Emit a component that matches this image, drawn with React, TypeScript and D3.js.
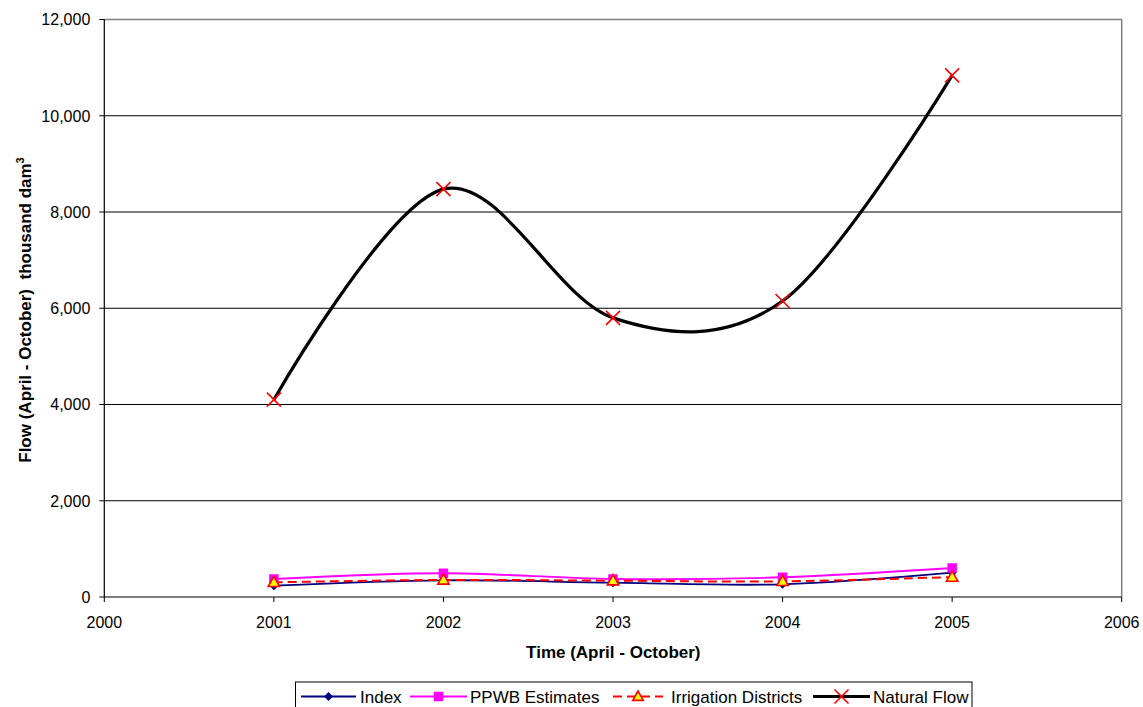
import React from "react";
import * as d3 from "d3";

const years = [2001, 2002, 2003, 2004, 2005];
const indexValues = [235, 347, 298, 264, 505];
const ppwbValues = [374, 493, 374, 410, 603];
const irrigationValues = [305, 354, 339, 325, 415];
const naturalFlowValues = [4100, 8475, 5800, 6150, 10840];
const yTicks = [0, 2000, 4000, 6000, 8000, 10000, 12000];
const xTicks = [2000, 2001, 2002, 2003, 2004, 2005, 2006];

const W = 1143;
const H = 707;
const left = 104.3;
const right = 1121.7;
const top = 19.5;
const bottom = 597;

export default function App() {
  const x = d3.scaleLinear().domain([2000, 2006]).range([left, right]);
  const y = d3.scaleLinear().domain([0, 12000]).range([bottom, top]);
  const line = d3
    .line<[number, number]>()
    .x((d) => x(d[0]))
    .y((d) => y(d[1]))
    .curve(d3.curveCardinal.tension(0));
  const pts = (vals: number[]) => years.map((yr, i) => [yr, vals[i]] as [number, number]);
  const fmt = d3.format(",");
  const font = "Arial, 'Liberation Sans', sans-serif";

  const diamond = (cx: number, cy: number, s: number) =>
    `M${cx},${cy - s}L${cx + s},${cy}L${cx},${cy + s}L${cx - s},${cy}Z`;
  const tri = (cx: number, cy: number, s: number) =>
    `M${cx},${cy - s}L${cx + s * 0.95},${cy + s * 0.7}L${cx - s * 0.95},${cy + s * 0.7}Z`;
  const cross = (cx: number, cy: number, s: number) =>
    `M${cx - s},${cy - s}L${cx + s},${cy + s}M${cx - s},${cy + s}L${cx + s},${cy - s}`;

  const legY = 696.5;
  const legFs = 17;

  return (
    <svg
      width={W}
      height={H}
      style={{ position: "absolute", left: 0, top: 0, background: "#fff" }}
      fontFamily={font}
    >
      <rect x={0} y={0} width={W} height={H} fill="#fff" />
      {/* gridlines */}
      {yTicks.slice(1).map((t) => (
        <line key={t} x1={left} x2={right} y1={y(t)} y2={y(t)} stroke="#000" strokeWidth={1} />
      ))}
      {/* plot border right/top */}
      <line x1={right} x2={right} y1={top} y2={bottom} stroke="#808080" strokeWidth={1.5} />
      <line x1={left} x2={right} y1={top} y2={top} stroke="#808080" strokeWidth={1.5} />
      {/* axes */}
      <line x1={left} x2={left} y1={top} y2={bottom} stroke="#000" strokeWidth={1.2} />
      <line x1={left} x2={right} y1={bottom} y2={bottom} stroke="#000" strokeWidth={1.2} />
      {yTicks.map((t) => (
        <g key={t}>
          <line x1={left - 5} x2={left} y1={y(t)} y2={y(t)} stroke="#000" />
          <text x={left - 14} y={y(t)} dy="0.36em" textAnchor="end" fontSize={16} fill="#000">
            {fmt(t)}
          </text>
        </g>
      ))}
      {xTicks.map((t) => (
        <g key={t}>
          <line x1={x(t)} x2={x(t)} y1={bottom} y2={bottom + 5} stroke="#000" />
          <text x={x(t)} y={bottom + 31} textAnchor="middle" fontSize={16} fill="#000">
            {t}
          </text>
        </g>
      ))}
      <text x={613.3} y={658} textAnchor="middle" fontSize={17} fontWeight="bold">
        Time (April - October)
      </text>
      <text
        transform={`translate(31,${310}) rotate(-90)`}
        textAnchor="middle"
        fontSize={17}
        fontWeight="bold"
        style={{ whiteSpace: "pre" }}
      >
        {"Flow (April - October)  thousand dam"}
        <tspan fontSize={11} dy={-7}>3</tspan>
      </text>

      {/* series */}
      <path d={line(pts(naturalFlowValues)) || ""} fill="none" stroke="#000" strokeWidth={3.2} />
      <path d={line(pts(ppwbValues)) || ""} fill="none" stroke="#FF00FF" strokeWidth={1.8} />
      <path d={line(pts(indexValues)) || ""} fill="none" stroke="#000080" strokeWidth={1.8} />
      <path
        d={line(pts(irrigationValues)) || ""}
        fill="none"
        stroke="#FF0000"
        strokeWidth={2}
        strokeDasharray="9,5"
      />
      {years.map((yr, i) => (
        <path key={"i" + yr} d={diamond(x(yr), y(indexValues[i]), 4.5)} fill="#000080" />
      ))}
      {years.map((yr, i) => (
        <rect
          key={"p" + yr}
          x={x(yr) - 4.75}
          y={y(ppwbValues[i]) - 4.75}
          width={9.5}
          height={9.5}
          fill="#FF00FF"
        />
      ))}
      {years.map((yr, i) => (
        <path
          key={"r" + yr}
          d={tri(x(yr), y(irrigationValues[i]), 6)}
          fill="#FFFF00"
          stroke="#FF0000"
          strokeWidth={1.6}
        />
      ))}
      {years.map((yr, i) => (
        <path
          key={"n" + yr}
          d={cross(x(yr), y(naturalFlowValues[i]), 7)}
          stroke="#FF0000"
          strokeWidth={1.6}
          fill="none"
        />
      ))}

      {/* legend */}
      <rect x={295.5} y={682} width={676.5} height={40} fill="#fff" stroke="#000" strokeWidth={1} />
      <line x1={301} x2={356} y1={legY} y2={legY} stroke="#000080" strokeWidth={1.8} />
      <path d={diamond(328.5, legY, 4.5)} fill="#000080" />
      <text x={360} y={legY} dy="0.36em" fontSize={legFs}>Index</text>

      <line x1={410} x2={467} y1={legY} y2={legY} stroke="#FF00FF" strokeWidth={1.8} />
      <rect x={433.75} y={legY - 4.75} width={9.5} height={9.5} fill="#FF00FF" />
      <text x={470} y={legY} dy="0.36em" fontSize={legFs}>PPWB Estimates</text>

      <line
        x1={613}
        x2={663}
        y1={legY}
        y2={legY}
        stroke="#FF0000"
        strokeWidth={2}
        strokeDasharray="9,5"
      />
      <path d={tri(638, legY, 5.5)} fill="#FFFF00" stroke="#FF0000" strokeWidth={1.6} />
      <text x={671} y={legY} dy="0.36em" fontSize={legFs}>Irrigation Districts</text>

      <line x1={813} x2={870} y1={legY} y2={legY} stroke="#000" strokeWidth={3.2} />
      <path d={cross(841.5, legY, 7)} stroke="#FF0000" strokeWidth={1.6} fill="none" />
      <text x={873} y={legY} dy="0.36em" fontSize={legFs}>Natural Flow</text>
    </svg>
  );
}
